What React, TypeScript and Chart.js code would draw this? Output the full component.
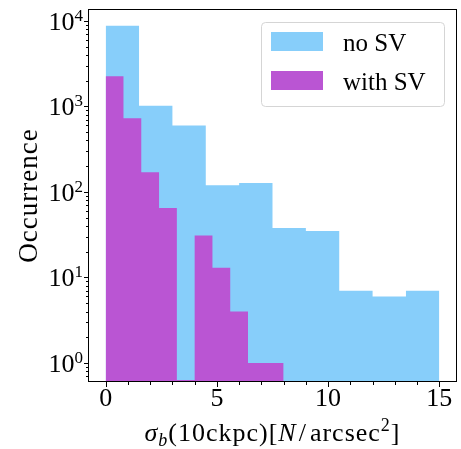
import React, { useEffect, useRef } from "react";
import { Chart, registerables } from "chart.js";

Chart.register(...registerables);

// ---- data ----
const NO_SV_EDGES = [0, 1.5, 3, 4.5, 6, 7.5, 9, 10.5, 12, 13.5, 15];
const NO_SV_COUNTS = [8750, 1020, 600, 120, 127, 38, 35, 7, 6, 7];
const WITH_SV_EDGES = [0, 0.8, 1.6, 2.4, 3.2, 4.0, 4.8, 5.6, 6.4, 7.2, 8.0];
const WITH_SV_COUNTS = [2250, 730, 170, 65, 0, 31, 13, 4, 1, 1];
const SERIES_LABELS = ["no SV", "with SV"];
const SERIES_COLORS = ["#87CEFA", "#BA55D3"];
const X_MAJOR_TICKS = [0, 5, 10, 15];
const Y_MAJOR_EXPONENTS = [0, 1, 2, 3, 4];
const X_MIN = -0.75;
const X_MAX = 15.75;
const Y_MIN = 0.635;
const Y_MAX = 13780;

const FONT = "'Liberation Serif', 'DejaVu Serif', serif";

function histPoints(edges: number[], counts: number[]) {
  const pts = counts.map((c, i) => ({ x: edges[i], y: c > 0 ? c : Y_MIN }));
  pts.push({ x: edges[edges.length - 1], y: counts[counts.length - 1] > 0 ? counts[counts.length - 1] : Y_MIN });
  return pts;
}

const overlayPlugin = {
  id: "overlay",
  afterDraw(chart: any) {
    const ctx = chart.ctx as CanvasRenderingContext2D;
    const { left, right, top, bottom } = chart.chartArea;
    const xs = chart.scales.x;
    const ys = chart.scales.y;
    ctx.save();
    ctx.strokeStyle = "#000";
    ctx.fillStyle = "#000";
    // frame
    ctx.lineWidth = 1;
    ctx.strokeRect(Math.round(left) - 0.5, Math.round(top) + 0.5, Math.round(right - left) + 1, Math.round(bottom - top) - 1);
    // y ticks
    for (let k = -1; k <= 4; k++) {
      for (let m = 1; m <= 9; m++) {
        const v = m * Math.pow(10, k);
        if (v < Y_MIN || v > Y_MAX) continue;
        const y = Math.round(ys.getPixelForValue(v)) + 0.5;
        const len = m === 1 ? 5 : 3;
        ctx.beginPath();
        ctx.moveTo(left - len, y);
        ctx.lineTo(left, y);
        ctx.stroke();
      }
    }
    // x ticks
    for (let i = 0; i <= 15; i++) {
      const x = Math.round(xs.getPixelForValue(i)) + 0.5;
      const len = i % 5 === 0 ? 5 : 3;
      ctx.beginPath();
      ctx.moveTo(x, bottom);
      ctx.lineTo(x, bottom + len);
      ctx.stroke();
    }
    // y labels
    ctx.textBaseline = "alphabetic";
    for (const k of Y_MAJOR_EXPONENTS) {
      const y = ys.getPixelForValue(Math.pow(10, k));
      ctx.font = `17px ${FONT}`;
      const e = String(k);
      const ew = ctx.measureText(e).width;
      const ex = left - 6 - ew;
      ctx.textAlign = "left";
      ctx.fillText(e, ex, y);
      ctx.font = `26px ${FONT}`;
      ctx.textAlign = "right";
      ctx.fillText("10", ex, y + 9);
    }
    // x labels
    ctx.font = `26px ${FONT}`;
    ctx.textAlign = "center";
    for (const t of X_MAJOR_TICKS) {
      ctx.fillText(String(t), xs.getPixelForValue(t), bottom + 24);
    }
    // x title
    const segs: { t: string; f: string; dy: number; gap?: number }[] = [
      { t: "σ", f: `italic 26px ${FONT}`, dy: 0 },
      { t: "b", f: `italic 18px ${FONT}`, dy: 5 },
      { t: "(10ckpc)[", f: `26px ${FONT}`, dy: 0 },
      { t: "N", f: `italic 26px ${FONT}`, dy: 0, gap: 2 },
      { t: "/", f: `26px ${FONT}`, dy: 0, gap: 3 },
      { t: "arcsec", f: `26px ${FONT}`, dy: 0 },
      { t: "2", f: `18px ${FONT}`, dy: -10 },
      { t: "]", f: `26px ${FONT}`, dy: 0 },
    ];
    (ctx as any).letterSpacing = "1px";
    let total = 0;
    for (const s of segs) {
      ctx.font = s.f;
      total += ctx.measureText(s.t).width + (s.gap || 0);
    }
    let cx = (left + right) / 2 - total / 2;
    ctx.textAlign = "left";
    for (const s of segs) {
      ctx.font = s.f;
      ctx.fillText(s.t, cx, 441 + s.dy);
      cx += ctx.measureText(s.t).width + (s.gap || 0);
    }
    (ctx as any).letterSpacing = "0px";
    // y title
    ctx.save();
    ctx.translate(37, (top + bottom) / 2);
    ctx.rotate(-Math.PI / 2);
    ctx.font = `27px ${FONT}`;
    (ctx as any).letterSpacing = "1px";
    ctx.textAlign = "center";
    ctx.fillText("Occurrence", 0, 0);
    ctx.restore();
    // legend
    const lx = 261, ly = 22, lw = 183, lh = 84;
    ctx.beginPath();
    ctx.roundRect(lx + 0.5, ly + 0.5, lw, lh, 4);
    ctx.fillStyle = "rgba(255,255,255,0.8)";
    ctx.fill();
    ctx.strokeStyle = "#d5d5d5";
    ctx.stroke();
    chart.data.datasets
      .slice()
      .sort((a: any, b: any) => a.legendIndex - b.legendIndex)
      .forEach((ds: any, i: number) => {
        const py = 32 + i * 39;
        ctx.fillStyle = ds.backgroundColor;
        ctx.fillRect(271, py, 52, 19);
        ctx.fillStyle = "#000";
        ctx.font = `25px ${FONT}`;
        ctx.textAlign = "left";
        ctx.fillText(ds.label, 343, py + 19);
      });
    ctx.restore();
  },
};

export default function App() {
  const ref = useRef<HTMLCanvasElement>(null);
  useEffect(() => {
    if (!ref.current) return;
    const chart = new Chart(ref.current, {
      type: "line",
      data: {
        datasets: [
          {
            label: SERIES_LABELS[1],
            legendIndex: 1,
            data: histPoints(WITH_SV_EDGES, WITH_SV_COUNTS),
            stepped: "before",
            fill: "start",
            backgroundColor: SERIES_COLORS[1],
            borderColor: "rgba(0,0,0,0)",
            borderWidth: 0,
            pointRadius: 0,
            order: 0,
          } as any,
          {
            label: SERIES_LABELS[0],
            legendIndex: 0,
            data: histPoints(NO_SV_EDGES, NO_SV_COUNTS),
            stepped: "before",
            fill: "start",
            backgroundColor: SERIES_COLORS[0],
            borderColor: "rgba(0,0,0,0)",
            borderWidth: 0,
            pointRadius: 0,
            order: 1,
          } as any,
        ],
      },
      options: {
        animation: false,
        responsive: false,
        events: [],
        layout: { padding: { left: 0, top: 9, right: 5, bottom: 0 } },
        plugins: { legend: { display: false }, tooltip: { enabled: false } },
        scales: {
          x: {
            type: "linear",
            min: X_MIN,
            max: X_MAX,
            grid: { display: false, drawTicks: false },
            border: { display: false },
            ticks: { display: false },
            afterFit: (s: any) => {
              s.height = 67;
            },
          },
          y: {
            type: "logarithmic",
            min: Y_MIN,
            max: Y_MAX,
            grid: { display: false, drawTicks: false },
            border: { display: false },
            ticks: { display: false },
            afterFit: (s: any) => {
              s.width = 89;
            },
          },
        },
      },
      plugins: [overlayPlugin],
    });
    return () => chart.destroy();
  }, []);
  return (
    <div style={{ position: "fixed", left: 0, top: 0, width: 461, height: 449, background: "#fff" }}>
      <canvas ref={ref} width={461} height={449} />
    </div>
  );
}
